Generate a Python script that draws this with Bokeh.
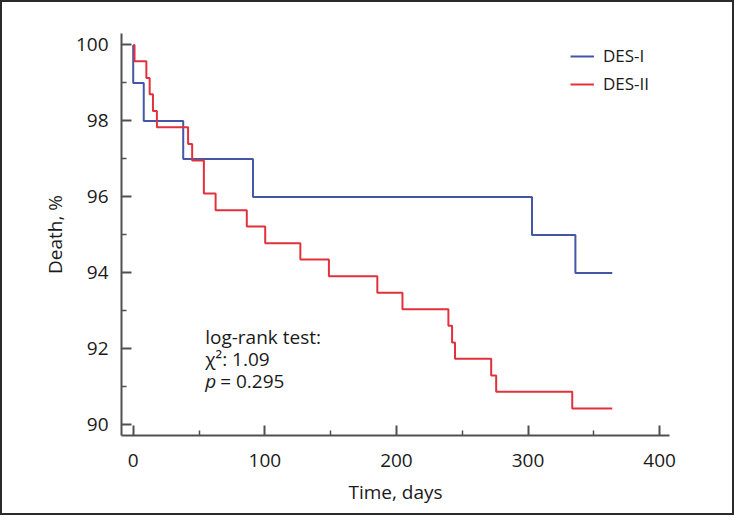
from bokeh.plotting import figure
from bokeh.models import FixedTicker, Label, Legend, LegendItem, Range1d
from bokeh.embed import file_html
from bokeh.resources import INLINE

# ---- data ----
des1_days = [0, 0, 8, 38, 91, 303, 336, 364]
des1_pct = [100, 99, 98, 97, 96, 95, 94, 94]

des2_days = [0, 1, 10, 12.5, 15, 18, 41.7, 44.8, 53.7, 62.6, 86.3, 100.3, 127,
             148.7, 185.5, 204.6, 239.5, 242.3, 244.5, 272, 275.8, 333.6, 364]
des2_pct = [100, 99.57, 99.13, 98.70, 98.26, 97.83, 97.39, 96.96, 96.09, 95.65,
            95.22, 94.78, 94.35, 93.91, 93.48, 93.04, 92.61, 92.17, 91.74, 91.30,
            90.87, 90.43, 90.43]

x_ticks = [0, 100, 200, 300, 400]
x_minor = [50, 150, 250, 350]
y_ticks = [90, 92, 94, 96, 98, 100]
y_minor = [91, 93, 95, 97, 99]

series_names = ["DES-I", "DES-II"]
stats_lines = ["log-rank test:", "χ²: 1.09"]
p_value_text = "= 0.295"

FONT = "Open Sans"
BLUE = "#4456a6"
RED = "#e2313c"
AXIS = "#505050"

p = figure(frame_width=548, frame_height=402,
           x_range=Range1d(-8.9, 407.5), y_range=Range1d(89.72, 100.3),
           output_backend="svg", toolbar_location=None,
           min_border_left=119, min_border_top=31,
           min_border_right=63, min_border_bottom=78)
p.styles = {"border": "2px solid #2b2b2b"}
p.outline_line_color = None
p.xgrid.visible = False
p.ygrid.visible = False
p.background_fill_color = "white"
p.border_fill_color = "white"

r1 = p.step(des1_days, des1_pct, mode="after", line_color=BLUE, line_width=2)
r2 = p.step(des2_days, des2_pct, mode="after", line_color=RED, line_width=2)

p.xaxis.ticker = FixedTicker(ticks=x_ticks, minor_ticks=x_minor)
p.yaxis.ticker = FixedTicker(ticks=y_ticks, minor_ticks=y_minor)
p.xaxis.axis_label = "Time, days"
p.yaxis.axis_label = "Death, %"

for ax in (p.xaxis, p.yaxis):
    ax.axis_line_color = AXIS
    ax.axis_line_width = 2
    ax.major_tick_line_color = AXIS
    ax.major_tick_line_width = 2
    ax.minor_tick_line_color = AXIS
    ax.minor_tick_line_width = 1.5
    ax.major_tick_in = 10
    ax.major_tick_out = 0
    ax.minor_tick_in = 5
    ax.minor_tick_out = 0
    ax.major_label_text_font = FONT
    ax.major_label_text_font_size = "19px"
    ax.major_label_text_color = "#1a1a1a"
    ax.axis_label_text_font = FONT
    ax.axis_label_text_font_size = "19px"
    ax.axis_label_text_font_style = "normal"
    ax.axis_label_text_color = "#1a1a1a"

p.xaxis.major_label_standoff = 18
p.xaxis.axis_label_standoff = 9
p.yaxis.major_label_standoff = 13
p.yaxis.axis_label_standoff = 5

legend = Legend(items=[LegendItem(label=series_names[0], renderers=[r1]),
                       LegendItem(label=series_names[1], renderers=[r2])],
                location=(449, 340))
legend.border_line_color = None
legend.background_fill_alpha = 0
legend.padding = 0
legend.margin = 0
legend.spacing = 5
legend.glyph_width = 24
legend.glyph_height = 20
legend.label_standoff = 9
legend.label_text_font = FONT
legend.label_text_font_size = "17px"
legend.label_text_color = "#1a1a1a"
p.add_layout(legend, "center")

ys = [92.31, 91.73]
for txt, yy in zip(stats_lines, ys):
    p.add_layout(Label(x=54.7, y=yy, text=txt, text_baseline="middle",
                       text_font=FONT, text_font_size="19px", text_color="#1a1a1a"))
p.add_layout(Label(x=54.7, y=91.15, text="p", text_baseline="middle",
                   text_font=FONT, text_font_size="19px", text_font_style="italic",
                   text_color="#1a1a1a"))
p.add_layout(Label(x=54.7, y=91.15, x_offset=15, text=p_value_text, text_baseline="middle",
                   text_font=FONT, text_font_size="19px", text_color="#1a1a1a"))

open("out.html", "w").write(file_html(p, INLINE))
